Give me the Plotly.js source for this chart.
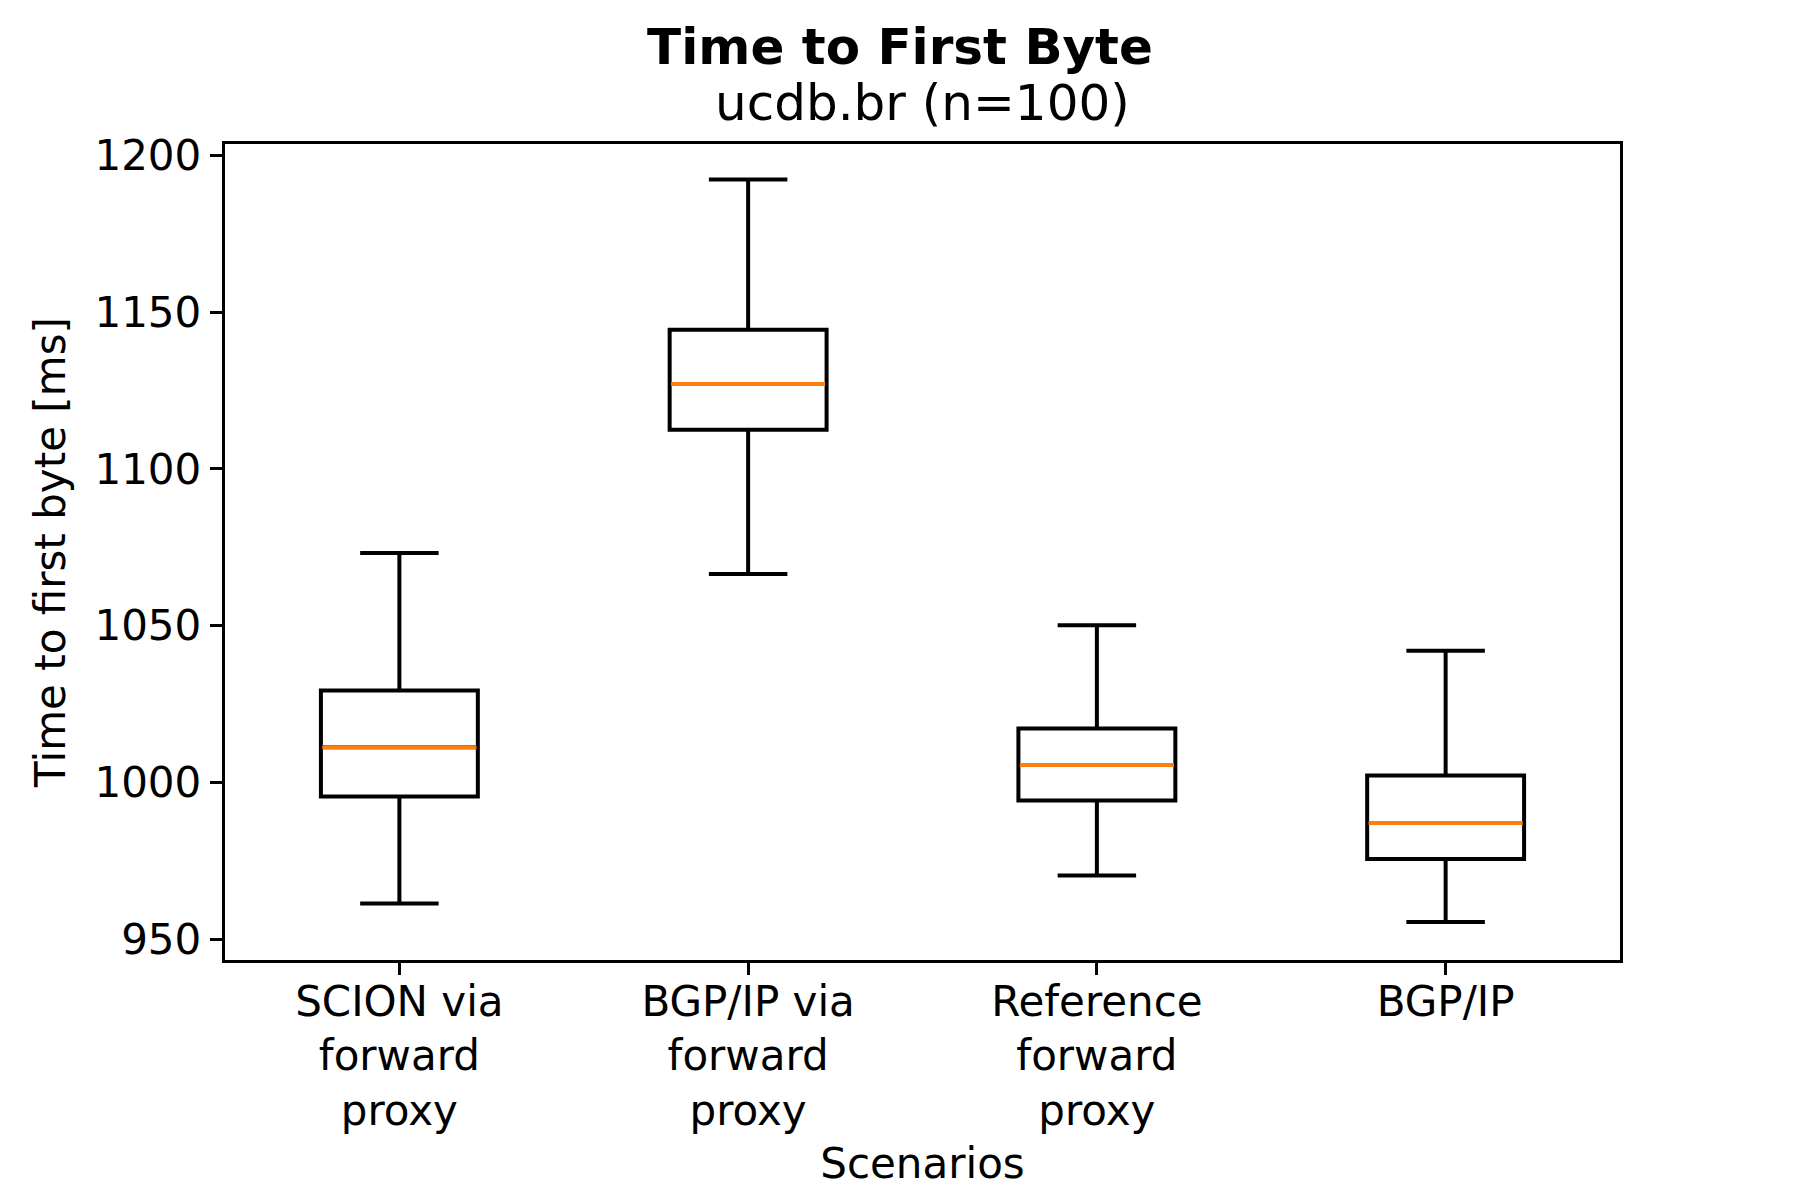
<!DOCTYPE html>
<html>
<head>
<meta charset="utf-8">
<script src="https://cdn.plot.ly/plotly-3.0.1.min.js"></script>
<style>html,body{margin:0;padding:0;background:#fff;}</style>
</head>
<body>
<div id="chart" style="width:1800px;height:1200px;"></div>
<script>
// Data
const categories = ["SCION via<br>forward<br>proxy", "BGP/IP via<br>forward<br>proxy", "Reference<br>forward<br>proxy", "BGP/IP"];
const positions = [1, 2, 3, 4];
const lowerWhisker = [961.3, 1066.5, 970.3, 955.4];
const q1 = [995.5, 1112.5, 994.2, 975.5];
const medians = [1011.2, 1127.1, 1005.5, 987.0];
const q3 = [1029.3, 1144.4, 1017.2, 1002.2];
const upperWhisker = [1073.2, 1192.4, 1050.1, 1042.0];
const yTicks = [950, 1000, 1050, 1100, 1150, 1200];

const boxWidth = 0.45;
const FONT = "DejaVu Sans, sans-serif";

const traces = [];
traces.push({
  type: "box",
  x: positions,
  q1: q1,
  median: medians,
  q3: q3,
  lowerfence: lowerWhisker,
  upperfence: upperWhisker,
  width: boxWidth,
  whiskerwidth: 0.5,
  line: {color: "#000000", width: 4},
  fillcolor: "rgba(255,255,255,0)",
  boxpoints: false,
  hoverinfo: "skip",
  showlegend: false
});
// Orange median lines drawn on top
for (let i = 0; i < positions.length; i++) {
  traces.push({
    type: "scatter",
    mode: "lines",
    x: [positions[i] - boxWidth / 2 + 0.004, positions[i] + boxWidth / 2 - 0.004],
    y: [medians[i], medians[i]],
    line: {color: "#ff7f0e", width: 4},
    hoverinfo: "skip",
    showlegend: false
  });
}

const layout = {
  width: 1800,
  height: 1200,
  paper_bgcolor: "#ffffff",
  plot_bgcolor: "#ffffff",
  font: {family: FONT, size: 42, color: "#000000"},
  margin: {l: 225, r: 180, t: 144, b: 240},
  showlegend: false,
  title: {
    text: "<b>Time to First Byte</b>",
    font: {family: FONT, size: 50, color: "#000000"},
    x: 0.5, xref: "container",
    xanchor: "center",
    y: 1 - 46 / 1200, yref: "container", yanchor: "middle"
  },
  annotations: [{
    text: "ucdb.br (n=100)",
    xref: "paper", yref: "paper",
    x: 0.5, y: 1 + (144 - 103) / 816,
    xanchor: "center", yanchor: "middle",
    showarrow: false,
    font: {family: FONT, size: 50, color: "#000000"}
  }],
  xaxis: {
    range: [0.5, 4.5],
    tickmode: "array",
    tickvals: positions,
    ticktext: categories,
    ticks: "outside",
    ticklen: 12,
    tickwidth: 3,
    tickcolor: "#000000",
    ticklabelstandoff: -10,
    showgrid: false,
    zeroline: false,
    showline: true,
    mirror: true,
    linecolor: "#000000",
    linewidth: 3.3,
    tickfont: {family: FONT, size: 42, color: "#000000"},
    title: {text: "Scenarios", font: {family: FONT, size: 42, color: "#000000"}, standoff: 15}
  },
  yaxis: {
    range: [943.3, 1203.7],
    tickmode: "array",
    tickvals: yTicks,
    ticktext: yTicks.map(String),
    ticks: "outside",
    ticklen: 12,
    tickwidth: 3,
    tickcolor: "#000000",
    showgrid: false,
    zeroline: false,
    showline: true,
    mirror: true,
    linecolor: "#000000",
    linewidth: 3.3,
    tickfont: {family: FONT, size: 42, color: "#000000"},
    title: {text: "Time to first byte [ms]", font: {family: FONT, size: 42, color: "#000000"}, standoff: 16}
  }
};

Plotly.newPlot("chart", traces, layout, {staticPlot: true, displayModeBar: false});
</script>
</body>
</html>
